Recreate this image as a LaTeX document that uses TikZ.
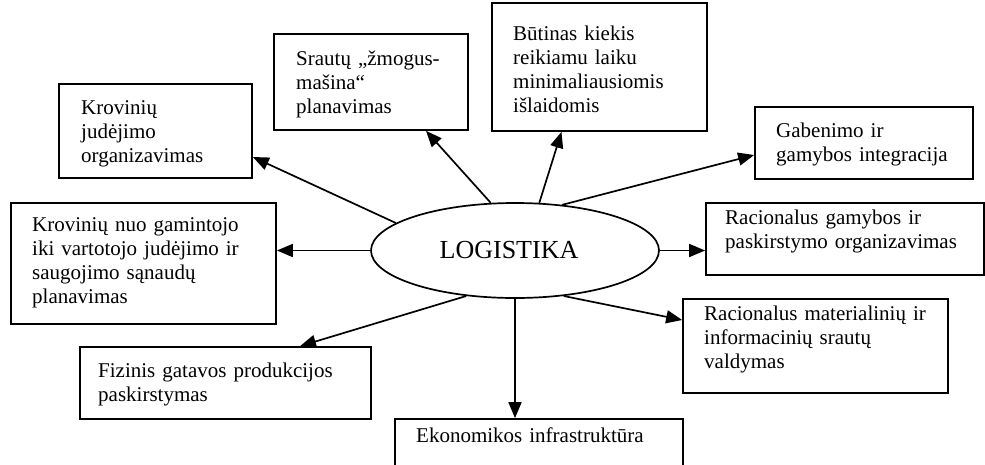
\documentclass[tikz,border=0pt]{standalone}
\usepackage{fontspec}
\setmainfont{Liberation Serif}
\usetikzlibrary{arrows.meta,shapes.geometric,calc}
\begin{document}
\begin{tikzpicture}[x=1pt,y=-1pt,
  box/.style={draw,line width=1.7pt,rectangle,inner sep=0pt},
  txt/.style={anchor=base west,inner sep=0pt,text width=300pt,align=left,
    font=\fontsize{21}{24.3}\selectfont},
  conn/.style={line width=1.7pt,-{Triangle[length=16pt,width=13pt]}}]
\useasboundingbox (0,0) rectangle (985,464);
% centre ellipse
\node[draw,line width=1.7pt,ellipse,minimum width=288pt,minimum height=95pt,inner sep=0pt,
  font=\fontsize{26}{30}\selectfont] (L) at (515,250.5) {\hspace*{-12pt}LOGISTIKA};
% boxes
\node[box,minimum width=193pt,minimum height=94pt] (b1) at (155.5,131) {};
\node[box,minimum width=194pt,minimum height=96pt] (b2) at (371,82) {};
\node[box,minimum width=215pt,minimum height=128pt] (b3) at (599.5,67) {};
\node[box,minimum width=218pt,minimum height=72pt] (b4) at (864,143) {};
\node[box,minimum width=278pt,minimum height=72pt] (b5) at (845,239) {};
\node[box,minimum width=265pt,minimum height=121pt] (b6) at (143.5,263.5) {};
\node[box,minimum width=291pt,minimum height=72pt] (b7) at (225.5,383) {};
\node[box,minimum width=265pt,minimum height=94pt] (b8) at (815.5,346) {};
\node[box,minimum width=288pt,minimum height=56pt] (b9) at (539,447) {};
% texts
\node[txt] (t1) at (81,114) {Krovinių\\judėjimo\\organizavimas};
\node[txt] (t2) at (296,65) {Srautų „žmogus-\\mašina“\\planavimas};
\node[txt] (t3) at (513,40) {Būtinas kiekis\\reikiamu laiku\\minimaliausiomis\\išlaidomis};
\node[txt] (t4) at (776,137) {Gabenimo ir\\gamybos integracija};
\node[txt] (t5) at (725,224) {Racionalus gamybos ir\\paskirstymo organizavimas};
\node[txt] (t6) at (32,231) {Krovinių nuo gamintojo\\iki vartotojo judėjimo ir\\saugojimo sąnaudų\\planavimas};
\node[txt] (t7) at (98,377) {Fizinis gatavos produkcijos\\paskirstymas};
\node[txt] (t8) at (704,320) {Racionalus materialinių ir\\informacinių srautų\\valdymas};
\node[txt] (t9) at (416,442) {Ekonomikos infrastruktūra};
% connectors
\draw[conn] (L.167) -- ($(b1.east)+(0,26)$);
\draw[conn] (L.117) -- ($(b2.south)+(55,0)$);
\draw[conn] (L.63) -- ($(b3.south)+(-38,0)$);
\draw[conn] (L.44) -- ($(b4.west)+(0,12)$);
\draw[conn] (L.east) -- ($(b5.west)+(0,11.5)$);
\draw[conn] (L.west) -- ($(b6.east)+(0,-13)$);
\draw[conn] (L.223) -- ($(b7.north)+(74.5,0)$);
\draw[conn] (L.317) -- ($(b8.west)+(0,-26)$);
\draw[conn] (L.south) -- ($(b9.north)+(-24,0)$);
\end{tikzpicture}
\end{document}
